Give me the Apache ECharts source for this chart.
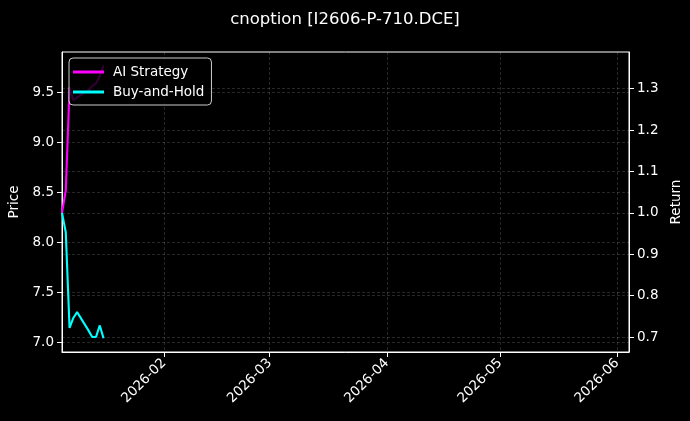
<!DOCTYPE html>
<html>
<head>
<meta charset="utf-8">
<script src="https://cdn.jsdelivr.net/npm/echarts@6/dist/echarts.min.js"></script>
<style>
html,body{margin:0;padding:0;background:#000;}
#c{width:690px;height:421px;}
</style>
</head>
<body>
<div id="c"></div>
<script>
const dates = ['2026-01-05','2026-01-06','2026-01-07','2026-01-08','2026-01-09','2026-01-12','2026-01-13','2026-01-14','2026-01-15','2026-01-16'];
const aiStrategy = [1.000, 1.054, 1.303, 1.272, 1.279, 1.296, 1.306, 1.313, 1.330, 1.356];
const buyAndHold = [1.000, 0.953, 0.722, 0.746, 0.760, 0.716, 0.700, 0.700, 0.728, 0.697];
const priceTicks = [7.0, 7.5, 8.0, 8.5, 9.0, 9.5];
const returnTicks = [0.7, 0.8, 0.9, 1.0, 1.1, 1.2, 1.3];
const monthTicks = ['2026-02-01','2026-03-01','2026-04-01','2026-05-01','2026-06-01'];

const FONT = 'DejaVu Sans';
const ts = s => { const [y,m,d] = s.split('-').map(Number); return new Date(y, m-1, d).getTime(); };
const pairs = (vals) => dates.map((d, i) => [ts(d), vals[i]]);
const gridLine = {show: true, lineStyle: {color: 'rgba(255,255,255,0.26)', type: [3, 2], width: 0.6}};
const tick = {show: true, length: 5, inside: false, lineStyle: {color: '#fff', width: 1}};
const label = {color: '#fff', fontSize: 13.5, fontFamily: FONT};

const chart = echarts.init(document.getElementById('c'), null, {renderer: 'canvas'});
chart.setOption({
  backgroundColor: '#000',
  animation: false,
  title: {
    text: 'cnoption [I2606-P-710.DCE]',
    left: 'center', top: 6,
    textStyle: {color: '#fff', fontSize: 16.5, fontWeight: 'normal', fontFamily: FONT}
  },
  grid: {left: 62, right: 61, top: 52, bottom: 69, show: true, borderColor: '#fff', borderWidth: 1,
         backgroundColor: 'transparent', containLabel: false, outerBoundsMode: 'none'},
  legend: {
    left: 69, top: 58, orient: 'vertical',
    data: ['AI Strategy', 'Buy-and-Hold'],
    icon: 'rect', itemWidth: 31, itemHeight: 3, itemGap: 6,
    padding: [7, 7, 6, 4],
    backgroundColor: 'rgba(0,0,0,0.8)', borderColor: '#cccccc', borderWidth: 1, borderRadius: 4,
    textStyle: {color: '#fff', fontSize: 13.5, fontFamily: FONT, padding: [0, 0, 0, 4]}
  },
  xAxis: {
    type: 'value',
    min: ts('2026-01-05'), max: ts('2026-06-04') + 3 * 3600 * 1000,
    axisLine: {show: true, onZero: false, lineStyle: {color: '#fff'}},
    axisTick: Object.assign({}, tick, {customValues: monthTicks.map(ts)}),
    axisLabel: Object.assign({}, label, {
      rotate: 45, margin: 9, customValues: monthTicks.map(ts),
      formatter: v => { const d = new Date(v); return d.getFullYear() + '-' + String(d.getMonth() + 1).padStart(2, '0'); }
    }),
    splitLine: gridLine
  },
  yAxis: [
    {
      type: 'value', position: 'left', min: 6.9, max: 9.9,
      name: 'Price', nameLocation: 'middle', nameRotate: 90, nameGap: 33,
      nameTextStyle: {color: '#fff', fontSize: 13.5, fontFamily: FONT},
      axisLine: {show: true, lineStyle: {color: '#fff'}},
      axisTick: Object.assign({}, tick, {customValues: priceTicks}),
      axisLabel: Object.assign({}, label, {customValues: priceTicks, formatter: v => v.toFixed(1)}),
      splitLine: gridLine
    },
    {
      type: 'value', position: 'right', min: 0.6638, max: 1.3885,
      name: 'Return', nameLocation: 'middle', nameRotate: 90, nameGap: 32,
      nameTextStyle: {color: '#fff', fontSize: 13.5, fontFamily: FONT},
      axisLine: {show: true, lineStyle: {color: '#fff'}},
      axisTick: Object.assign({}, tick, {customValues: returnTicks}),
      axisLabel: Object.assign({}, label, {customValues: returnTicks, formatter: v => v.toFixed(1)}),
      splitLine: gridLine
    }
  ],
  series: [
    {name: 'AI Strategy', type: 'line', yAxisIndex: 1, data: pairs(aiStrategy), showSymbol: false,
     lineStyle: {color: '#ff00ff', width: 2.1}, itemStyle: {color: '#ff00ff'}},
    {name: 'Buy-and-Hold', type: 'line', yAxisIndex: 1, data: pairs(buyAndHold), showSymbol: false,
     lineStyle: {color: '#00ffff', width: 2.1}, itemStyle: {color: '#00ffff'}}
  ]
});
</script>
</body>
</html>
